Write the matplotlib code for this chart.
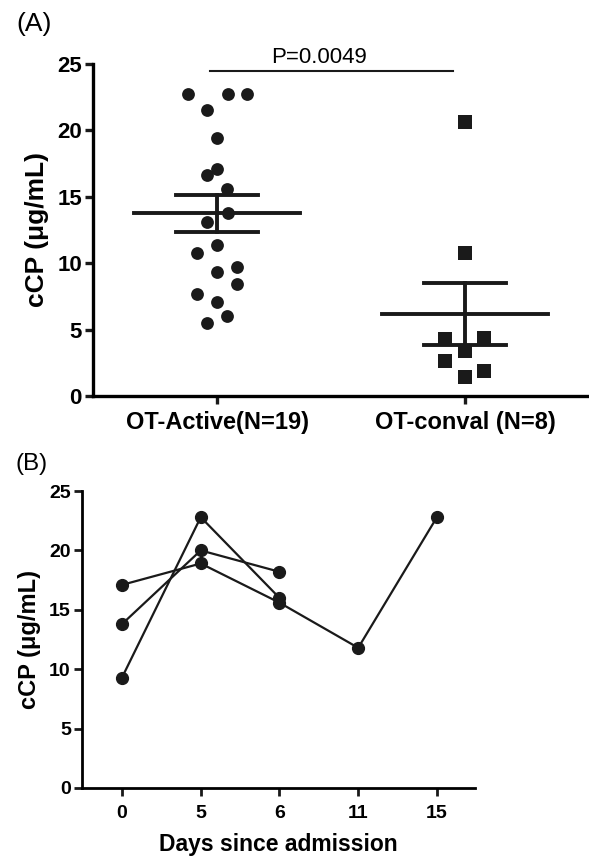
import numpy as np
import matplotlib
matplotlib.use("Agg")
import matplotlib.pyplot as plt

plt.rcParams['font.family'] = ['Liberation Sans', 'DejaVu Sans']

# panel A data
groups = ['OT-Active(N=19)', 'OT-conval (N=8)']
active_vals = [22.7, 22.7, 22.7, 21.5, 19.4, 17.1, 16.6, 15.6, 13.8, 13.1,
               11.4, 10.8, 9.7, 9.3, 8.4, 7.7, 7.1, 6.0, 5.5]
active_jitter = [-0.116, 0.044, 0.12, -0.04, 0.0, 0.0, -0.04, 0.04, 0.044, -0.04,
                 0.0, -0.08, 0.08, 0.0, 0.08, -0.08, 0.0, 0.04, -0.04]
conval_vals = [20.6, 10.8, 4.3, 4.4, 3.4, 2.6, 1.4, 1.9]
conval_jitter = [0.0, 0.0, -0.08, 0.076, 0.0, -0.08, 0.0, 0.076]
p_text = 'P=0.0049'

# panel B data
days = ['0', '5', '6', '11', '15']
patients = [
    [13.8, 20.0, 18.2, None, None],
    [9.3, 22.8, 16.0, None, None],
    [17.1, 18.9, 15.6, 11.8, 22.8],
]

fig = plt.figure(figsize=(5.89, 8.58), dpi=100)

# ---- (A) ----
ax = fig.add_axes([0.158, 0.5385, 0.842, 0.387])
ax.scatter(np.array(active_jitter), active_vals, s=85, c='#1a1a1a', marker='o',
           clip_on=False, zorder=3, linewidths=0)
ax.scatter(1 + np.array(conval_jitter), conval_vals, s=105, c='#1a1a1a', marker='s',
           clip_on=False, zorder=3, linewidths=0)
for i, vals in enumerate([active_vals, conval_vals]):
    v = np.array(vals)
    m = v.mean()
    sem = v.std(ddof=1) / np.sqrt(len(v))
    ax.plot([i - 0.335, i + 0.335], [m, m], color='#1a1a1a', lw=2.8, zorder=4)
    ax.plot([i, i], [m - sem, m + sem], color='#1a1a1a', lw=2.8, zorder=4)
    for y in (m - sem, m + sem):
        ax.plot([i - 0.165, i + 0.165], [y, y], color='#1a1a1a', lw=2.8, zorder=4)
ax.plot([-0.03, 0.95], [24.5, 24.5], color='#1a1a1a', lw=1.5, clip_on=False)
ax.text(0.41, 25.1, p_text, ha='center', va='baseline', fontsize=16)
ax.set_xlim(-0.5, 1.5)
ax.set_ylim(0, 25)
ax.set_yticks([0, 5, 10, 15, 20, 25])
ax.set_xticks([0, 1])
ax.set_xticklabels(groups, fontweight='bold', fontsize=17)
for lab in ax.get_yticklabels():
    lab.set_fontweight('bold')
    lab.set_fontsize(16)
ax.set_ylabel('cCP (\u03bcg/mL)', fontweight='bold', fontsize=19, labelpad=6)
for s in ['top', 'right']:
    ax.spines[s].set_visible(False)
for s in ['left', 'bottom']:
    ax.spines[s].set_linewidth(2.4)
ax.tick_params(width=2.4, length=6, color='#1a1a1a', pad=2)
ax.tick_params(axis='x', pad=5)
fig.text(0.027, 0.972, '(A)', fontsize=19, va='center')

# ---- (B) ----
bx = fig.add_axes([0.139, 0.0816, 0.667, 0.3461])
xs = np.arange(len(days))
for vals in patients:
    pts = [(x, v) for x, v in zip(xs, vals) if v is not None]
    px, py = zip(*pts)
    bx.plot(px, py, color='#1a1a1a', lw=1.6, marker='o', ms=8.5, clip_on=False, zorder=3)
bx.set_xlim(-0.51, 4.48)
bx.set_ylim(0, 25)
bx.set_yticks([0, 5, 10, 15, 20, 25])
bx.set_xticks(xs)
bx.set_xticklabels(days, fontweight='bold', fontsize=14)
for lab in bx.get_yticklabels():
    lab.set_fontweight('bold')
    lab.set_fontsize(14)
bx.set_ylabel('cCP (\u03bcg/mL)', fontweight='bold', fontsize=17, labelpad=6)
bx.set_xlabel('Days since admission', fontweight='bold', fontsize=16.5, labelpad=8)
for s in ['top', 'right']:
    bx.spines[s].set_visible(False)
for s in ['left', 'bottom']:
    bx.spines[s].set_linewidth(2.0)
bx.tick_params(width=2.0, length=6, color='#1a1a1a', pad=2)
bx.tick_params(axis='x', pad=6)
fig.text(0.027, 0.459, '(B)', fontsize=17.5, va='center')

fig.savefig('out.png', dpi=100)
